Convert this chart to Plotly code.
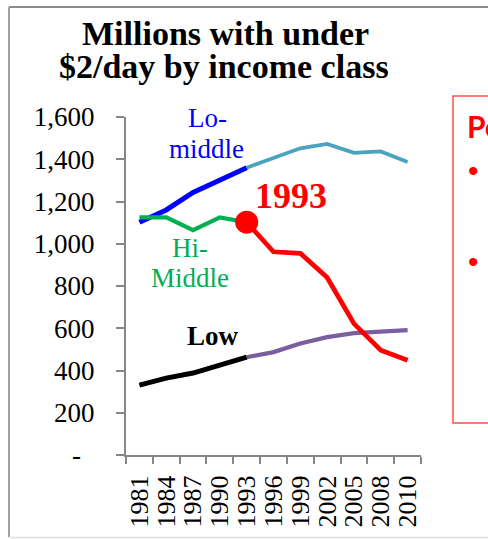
import plotly.graph_objects as go

# ---------------- data ----------------
years = ["1981", "1984", "1987", "1990", "1993", "1996", "1999", "2002", "2005", "2008", "2010"]
lo_middle = [1102, 1160, 1243, 1300, 1360, 1405, 1452, 1473, 1430, 1437, 1387]
hi_middle = [1125, 1125, 1064, 1125, 1102, 962, 955, 840, 622, 496, 449]
low = [331, 364, 388, 425, 463, 487, 528, 558, 577, 584, 591]
y_ticks = [0, 200, 400, 600, 800, 1000, 1200, 1400, 1600]
y_ticktext = ["-\u00a0\u00a0", "200", "400", "600", "800", "1,000", "1,200", "1,400", "1,600"]
split = years.index("1993")

W, H = 488, 539
L, R, T, B = 126, 421, 117, 455


def px(x):
    return (x - L) / (R - L)


def py(y):
    return (B - y) / (B - T)


SERIF = "Liberation Serif"
SANS = "Lato"

fig = go.Figure()


def seg(xs, ys, color, width):
    fig.add_trace(go.Scatter(x=xs, y=ys, mode="lines",
                             line=dict(color=color, width=width),
                             hoverinfo="skip", showlegend=False))


seg(years[split:], lo_middle[split:], "#4BA3BE", 3.8)
seg(years[:split + 1], lo_middle[:split + 1], "#0000FF", 5)
seg(years[:split + 1], hi_middle[:split + 1], "#00B050", 4.2)
seg(years[split:], low[split:], "#7A5FA0", 4.2)
seg(years[:split + 1], low[:split + 1], "#000000", 5)
seg(years[split:], hi_middle[split:], "#FF0000", 4.8)
fig.add_trace(go.Scatter(x=[years[split]], y=[hi_middle[split]], mode="markers",
                         marker=dict(color="#FF0000", size=23),
                         hoverinfo="skip", showlegend=False))

annotations = [
    dict(x=px(225), y=py(34), text="<b>Millions with under</b>", font=dict(size=34)),
    dict(x=px(224), y=py(67), text="<b>$2/day by income class</b>", font=dict(size=34)),
    dict(x=px(207), y=py(118), text="Lo-", font=dict(size=27, color="#0000FF")),
    dict(x=px(206), y=py(149), text="middle", font=dict(size=27, color="#0000FF")),
    dict(x=px(190), y=py(248), text="Hi-", font=dict(size=27, color="#00B050")),
    dict(x=px(190), y=py(278), text="Middle", font=dict(size=27, color="#00B050")),
    dict(x=px(213), y=py(336), text="<b>Low</b>", font=dict(size=27, color="#000000")),
    dict(x=px(291), y=py(196), text="<b>1993</b>", font=dict(size=36, color="#FF0000")),
    dict(x=px(465), y=py(126), text="<b>Po</b>", xanchor="left",
         font=dict(size=30, color="#FF0000", family=SANS)),
    dict(x=px(466), y=py(170), text="•", xanchor="left",
         font=dict(size=30, color="#FF0000", family="Liberation Sans")),
    dict(x=px(466), y=py(261), text="•", xanchor="left",
         font=dict(size=30, color="#FF0000", family="Liberation Sans")),
]
for a in annotations:
    a.setdefault("xanchor", "center")
    a.update(xref="paper", yref="paper", yanchor="middle", showarrow=False)
    a["font"].setdefault("family", SERIF)
    a["font"].setdefault("color", "#000000")

shapes = [
    dict(type="rect", xref="paper", yref="paper", x0=px(453), x1=px(520), y0=py(423), y1=py(96),
         line=dict(color="#FF4D4D", width=1.5)),
    dict(type="line", xref="paper", yref="paper", x0=px(9), x1=px(500), y0=py(7), y1=py(7),
         line=dict(color="#8C8C8C", width=2)),
    dict(type="line", xref="paper", yref="paper", x0=px(9), x1=px(9), y0=py(7), y1=py(537),
         line=dict(color="#A0A0A0", width=2)),
    dict(type="line", xref="paper", yref="paper", x0=px(9), x1=px(500), y0=py(537.5), y1=py(537.5),
         line=dict(color="#E0E0E0", width=1.5)),
]

fig.update_layout(
    width=W, height=H,
    margin=dict(l=L, r=W - R, t=T, b=H - B, pad=0),
    paper_bgcolor="white", plot_bgcolor="white",
    font=dict(family=SERIF, color="black"),
    annotations=annotations, shapes=shapes,
    xaxis=dict(type="category", categoryorder="array", categoryarray=years,
               range=[-0.5, len(years) - 0.5], tickson="boundaries",
               tickmode="array", tickvals=years, ticktext=years,
               showline=True, linecolor="#868686", linewidth=2,
               ticks="outside", ticklen=7, tickwidth=2, tickcolor="#868686",
               tickangle=-90, tickfont=dict(size=26, family=SERIF, color="black"),
               ticklabelstandoff=8, showgrid=False, zeroline=False, fixedrange=True),
    yaxis=dict(range=[0, 1600], tickvals=y_ticks, ticktext=y_ticktext,
               showline=True, linecolor="#868686", linewidth=2,
               ticks="outside", ticklen=8, tickwidth=2, tickcolor="#868686",
               tickfont=dict(size=27, family=SERIF, color="black"),
               ticklabelstandoff=16, showgrid=False, zeroline=False, fixedrange=True),
)

fig.write_html("out.html", config={"displayModeBar": False},
               post_script="document.body.style.margin='0';document.body.style.overflow='hidden';")
